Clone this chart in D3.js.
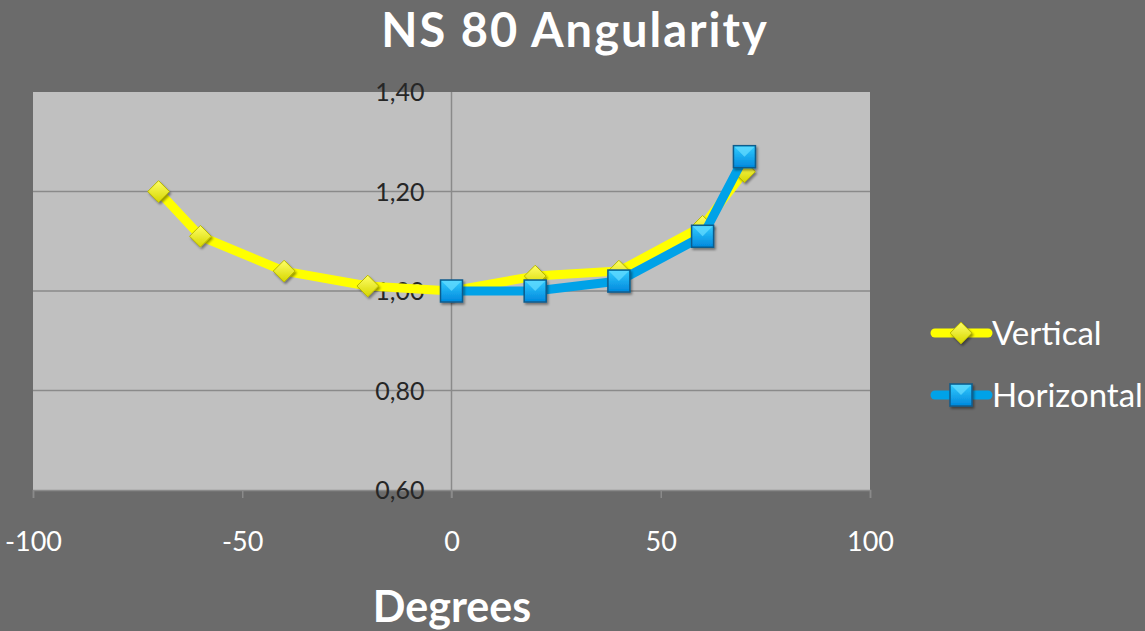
<!DOCTYPE html>
<html>
<head>
<meta charset="utf-8">
<script src="https://cdn.jsdelivr.net/npm/d3@7"></script>
<style>
  html, body { margin: 0; padding: 0; background: #6b6b6b; }
  svg { display: block; }
</style>
</head>
<body>
<svg id="chart"></svg>
<script>
// Chart data
const degrees = [-70, -60, -40, -20, 0, 20, 40, 60, 70];
const verticalValues = [1.20, 1.11, 1.04, 1.01, 1.00, 1.03, 1.04, 1.13, 1.24];
const horizontalDegrees = [0, 20, 40, 60, 70];
const horizontalValues = [1.00, 1.00, 1.02, 1.11, 1.27];
const xTicks = [-100, -50, 0, 50, 100];
const yTicks = [0.60, 0.80, 1.00, 1.20, 1.40];
const seriesNames = ["Vertical", "Horizontal"];

const svgWidth = 1145;
const svgHeight = 631;
const plot = { left: 33, right: 870, top: 92, bottom: 490 };
const fontFamily = "Lato, 'Open Sans', sans-serif";

const svg = d3.select("#chart")
    .attr("width", svgWidth)
    .attr("height", svgHeight);

// Background
svg.append("rect")
    .attr("width", svgWidth)
    .attr("height", svgHeight)
    .attr("fill", "#6b6b6b");

// Gradients and shadow for markers
const defs = svg.append("defs");
const yellowGrad = defs.append("linearGradient")
    .attr("id", "yellow-grad")
    .attr("x1", 0).attr("y1", 0).attr("x2", 0).attr("y2", 1);
yellowGrad.append("stop").attr("offset", "0%").attr("stop-color", "#ffff66");
yellowGrad.append("stop").attr("offset", "100%").attr("stop-color", "#d6d600");

const blueGrad = defs.append("linearGradient")
    .attr("id", "blue-grad")
    .attr("x1", 0).attr("y1", 0).attr("x2", 0).attr("y2", 1);
blueGrad.append("stop").attr("offset", "0%").attr("stop-color", "#33ccff");
blueGrad.append("stop").attr("offset", "100%").attr("stop-color", "#0088dd");

const shadow = defs.append("filter")
    .attr("id", "shadow")
    .attr("x", "-50%").attr("y", "-50%")
    .attr("width", "200%").attr("height", "200%");
shadow.append("feDropShadow")
    .attr("dx", 1.5).attr("dy", 2)
    .attr("stdDeviation", 1.2)
    .attr("flood-color", "#000")
    .attr("flood-opacity", 0.4);

// Scales
const x = d3.scaleLinear()
    .domain([-100, 100])
    .range([plot.left, plot.right]);

const y = d3.scaleLinear()
    .domain([0.60, 1.40])
    .range([plot.bottom, plot.top]);

// Plot area
svg.append("rect")
    .attr("x", plot.left)
    .attr("y", plot.top)
    .attr("width", plot.right - plot.left)
    .attr("height", plot.bottom - plot.top)
    .attr("fill", "#c0c0c0");

// Horizontal grid lines
svg.append("g")
    .attr("class", "grid y-grid")
    .selectAll("line")
    .data(yTicks.filter(d => d > 0.6 && d < 1.4))
    .join("line")
    .attr("x1", plot.left)
    .attr("x2", plot.right)
    .attr("y1", d => y(d))
    .attr("y2", d => y(d))
    .attr("stroke", "#8a8a8a")
    .attr("stroke-width", 1.5);

// Y axis line at x = 0
svg.append("line")
    .attr("x1", x(0)).attr("x2", x(0))
    .attr("y1", plot.top).attr("y2", plot.bottom + 8)
    .attr("stroke", "#8a8a8a")
    .attr("stroke-width", 1.5);

// X axis (bottom)
const xAxis = svg.append("g")
    .attr("class", "axis x-axis")
    .attr("transform", `translate(0,${plot.bottom})`)
    .call(d3.axisBottom(x)
        .tickValues(xTicks)
        .tickSize(8)
        .tickFormat(d => String(d)));
xAxis.select(".domain").attr("stroke", "#8a8a8a").attr("stroke-width", 1.5);
xAxis.selectAll(".tick line").attr("stroke", "#8a8a8a").attr("stroke-width", 1.5);
xAxis.selectAll(".tick text")
    .attr("y", 61)
    .attr("dy", 0)
    .attr("fill", "#ffffff")
    .attr("font-family", fontFamily)
    .attr("font-size", 27);

// Y tick labels beside the axis at x = 0
const commaFormat = d => d3.format(".2f")(d).replace(".", ",");
svg.append("g")
    .attr("class", "axis y-axis")
    .selectAll("text")
    .data(yTicks)
    .join("text")
    .attr("x", x(0) - 27)
    .attr("y", d => y(d))
    .attr("dy", "0.36em")
    .attr("text-anchor", "end")
    .attr("fill", "#262626")
    .attr("font-family", fontFamily)
    .attr("font-size", 25)
    .text(commaFormat);

// Series
const verticalData = degrees.map((d, i) => ({ deg: d, val: verticalValues[i] }));
const horizontalData = horizontalDegrees.map((d, i) => ({ deg: d, val: horizontalValues[i] }));

const line = d3.line()
    .x(d => x(d.deg))
    .y(d => y(d.val));

const diamond = d3.symbol().type(d3.symbolDiamond2).size(300);

function drawSeries(data, color, markerType) {
    const g = svg.append("g");
    g.append("path")
        .attr("d", line(data))
        .attr("fill", "none")
        .attr("stroke", color)
        .attr("stroke-width", 9)
        .attr("stroke-linejoin", "round");
    const markers = g.selectAll(".marker")
        .data(data)
        .join("g")
        .attr("class", "marker")
        .attr("transform", d => `translate(${x(d.deg)},${y(d.val)})`)
        .attr("filter", "url(#shadow)");
    drawMarker(markers, markerType);
}

function drawMarker(sel, markerType) {
    if (markerType === "diamond") {
        sel.append("path")
            .attr("d", diamond)
            .attr("fill", "url(#yellow-grad)")
            .attr("stroke", "#b8b800")
            .attr("stroke-width", 1);
    } else {
        sel.append("rect")
            .attr("x", -11).attr("y", -11)
            .attr("width", 22).attr("height", 22)
            .attr("fill", "url(#blue-grad)")
            .attr("stroke", "#0a5c8c")
            .attr("stroke-width", 1.5);
        sel.append("path")
            .attr("d", "M-10,-10L0,0L10,-10Z")
            .attr("fill", "#66ddff")
            .attr("opacity", 0.7);
    }
}

drawSeries(verticalData, "#ffff00", "diamond");
drawSeries(horizontalData, "#00a2e8", "square");

// Legend
const legend = svg.append("g").attr("class", "legend");
const legendColors = ["#ffff00", "#00a2e8"];
const legendTypes = ["diamond", "square"];
const legendRow = legend.selectAll("g")
    .data(seriesNames)
    .join("g")
    .attr("transform", (d, i) => `translate(935,${333 + i * 62})`);
legendRow.append("line")
    .attr("x1", 0).attr("x2", 53)
    .attr("stroke", (d, i) => legendColors[i])
    .attr("stroke-width", 9)
    .attr("stroke-linecap", "round");
legendRow.each(function (d, i) {
    const m = d3.select(this).append("g")
        .attr("transform", "translate(26,0)")
        .attr("filter", "url(#shadow)");
    drawMarker(m, legendTypes[i]);
});
legendRow.append("text")
    .attr("x", 57)
    .attr("dy", "0.36em")
    .attr("fill", "#ffffff")
    .attr("font-family", fontFamily)
    .attr("font-size", 33)
    .text(d => d);

// Title
svg.append("text")
    .attr("x", 575)
    .attr("y", 47)
    .attr("text-anchor", "middle")
    .attr("fill", "#ffffff")
    .attr("font-family", fontFamily)
    .attr("font-weight", "bold")
    .attr("font-size", 47)
    .attr("letter-spacing", 2)
    .text("NS 80 Angularity");

// X axis title
svg.append("text")
    .attr("x", 452)
    .attr("y", 622)
    .attr("text-anchor", "middle")
    .attr("fill", "#ffffff")
    .attr("font-family", fontFamily)
    .attr("font-weight", "bold")
    .attr("font-size", 43)
    .text("Degrees");
</script>
</body>
</html>
